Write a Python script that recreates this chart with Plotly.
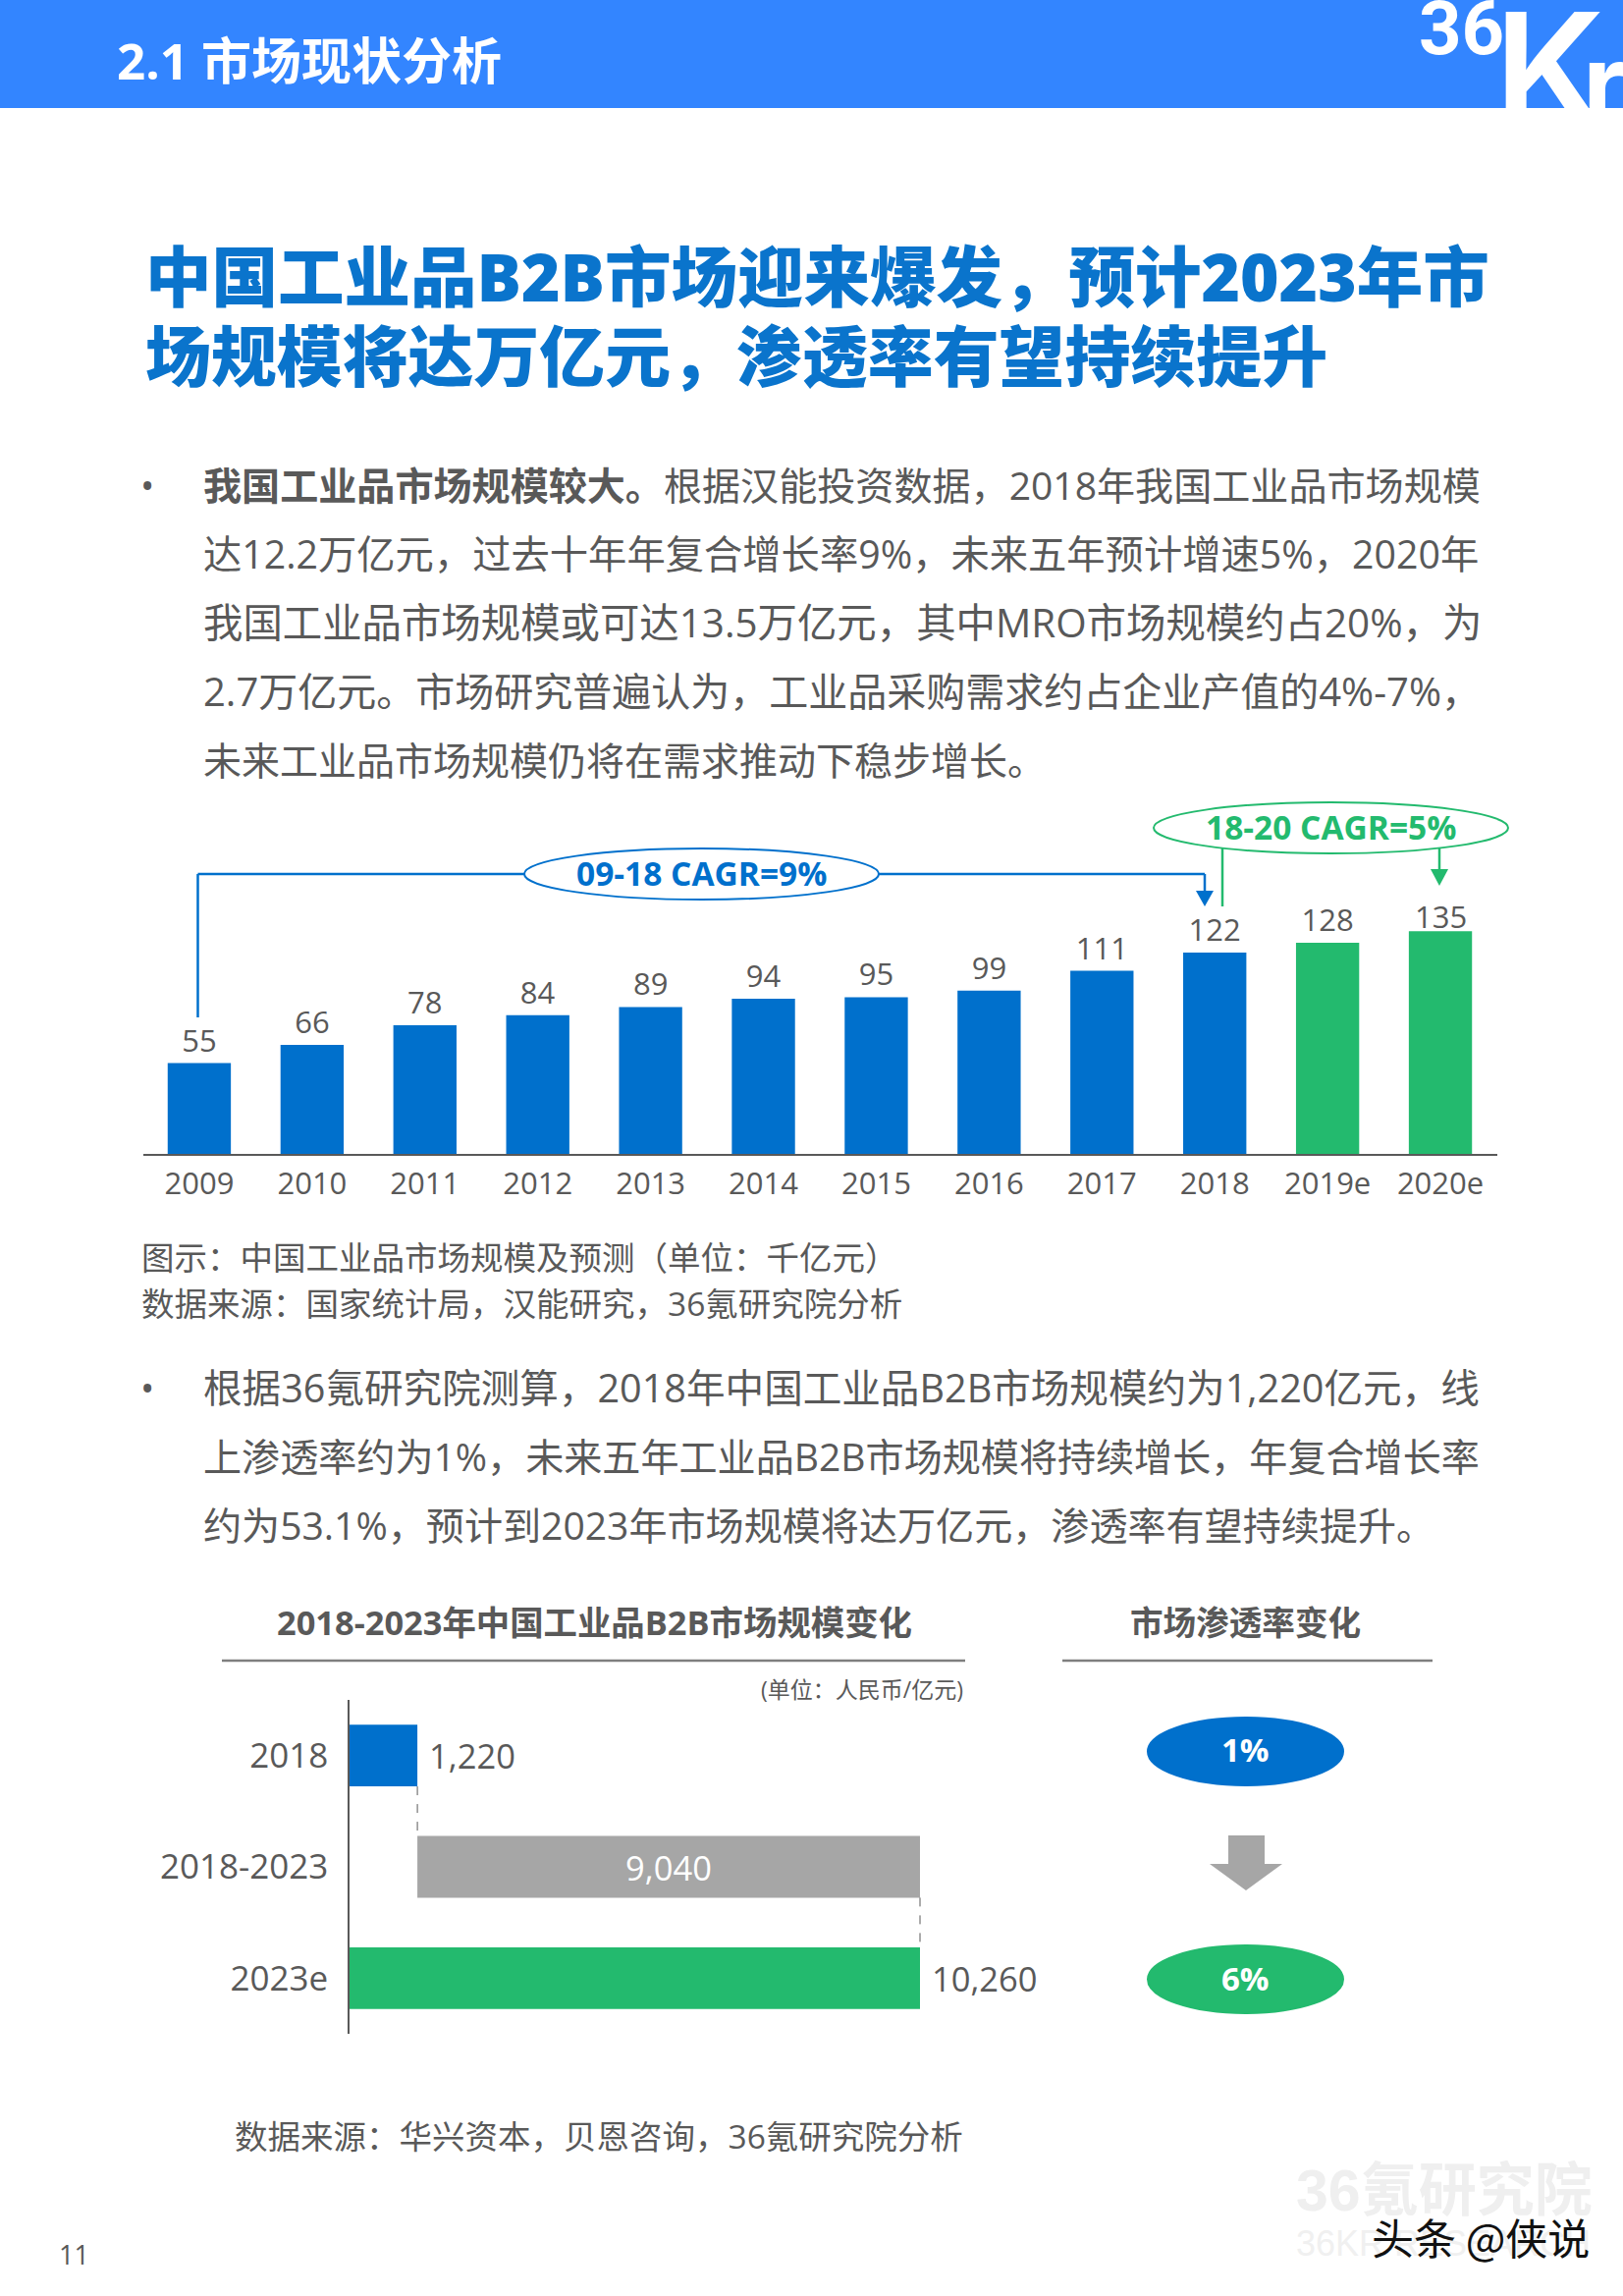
import plotly.graph_objects as go

WIDTH, HEIGHT = 1653, 2338
FONT = "Open Sans, Noto Sans CJK SC, sans-serif"
BLUE = "#0070CC"
GREEN = "#23BA6E"
GRAY = "#A6A6A6"
TEXT = "#595959"

# market size, thousand 100M yuan
years = ["2009", "2010", "2011", "2012", "2013", "2014", "2015", "2016",
         "2017", "2018", "2019e", "2020e"]
market_size = [55, 66, 78, 84, 89, 94, 95, 99, 111, 122, 128, 135]

# B2B waterfall
b2b_labels = ["2018", "2018-2023", "2023e"]
b2b_values = [1220, 9040, 10260]
b2b_bases = [0, 1220, 0]

body_top = [
    "<b>我国工业品市场规模较大。</b>根据汉能投资数据，2018年我国工业品市场规模",
    "达12.2万亿元，过去十年年复合增长率9%，未来五年预计增速5%，2020年",
    "我国工业品市场规模或可达13.5万亿元，其中MRO市场规模约占20%，为",
    "2.7万亿元。市场研究普遍认为，工业品采购需求约占企业产值的4%-7%，",
    "未来工业品市场规模仍将在需求推动下稳步增长。",
]
body_bottom = [
    "根据36氪研究院测算，2018年中国工业品B2B市场规模约为1,220亿元，线",
    "上渗透率约为1%，未来五年工业品B2B市场规模将持续增长，年复合增长率",
    "约为53.1%，预计到2023年市场规模将达万亿元，渗透率有望持续提升。",
]
# the original is justified, so each line gets its own size
sizes_top = [39.1, 39.3, 40.4, 40, 39]
sizes_bottom = [39.6, 39.1, 39.1]


def px(x):
    return x / WIDTH


def py(y):
    return 1 - y / HEIGHT


def label(x, y, text, size=33.5, color=TEXT, anchor="left", family=FONT, weight=None):
    font = dict(size=size, color=color, family=family)
    if weight:
        font["weight"] = weight
    fig.add_annotation(xref="paper", yref="paper", x=px(x), y=py(y), text=text,
                       showarrow=False, xanchor=anchor, yanchor="middle",
                       borderpad=0, borderwidth=0, font=font)


def rect(x0, y0, x1, y1, color):
    fig.add_shape(type="rect", xref="paper", yref="paper", x0=px(x0), x1=px(x1),
                  y0=py(y0), y1=py(y1), fillcolor=color, line_width=0)


def line(x0, y0, x1, y1, color, width=2.5, dash="solid"):
    fig.add_shape(type="line", xref="paper", yref="paper", x0=px(x0), x1=px(x1),
                  y0=py(y0), y1=py(y1), line=dict(color=color, width=width, dash=dash))


def ellipse(x0, y0, x1, y1, fill, border=None):
    fig.add_shape(type="circle", xref="paper", yref="paper", x0=px(x0), x1=px(x1),
                  y0=py(y0), y1=py(y1), fillcolor=fill,
                  line=dict(color=border or fill, width=2))


def polygon(points, color):
    path = "M" + " L".join(f"{px(x):.5f},{py(y):.5f}" for x, y in points) + " Z"
    fig.add_shape(type="path", xref="paper", yref="paper", path=path,
                  fillcolor=color, line_width=0)


fig = go.Figure()

# last label sits closer to its bar in the original, added separately below
fig.add_trace(go.Bar(
    x=years, y=market_size, xaxis="x", yaxis="y", width=0.56,
    marker=dict(color=[BLUE] * 10 + [GREEN] * 2, line_width=0),
    text=market_size[:-1] + [""], textposition="outside", cliponaxis=False,
    textfont=dict(size=31, color=TEXT, family=FONT),
    showlegend=False,
))
fig.add_annotation(xref="x", yref="y", x=years[-1], y=market_size[-1], text=str(market_size[-1]),
                   showarrow=False, yanchor="bottom", yshift=-8,
                   font=dict(size=31, color=TEXT, family=FONT))

fig.add_trace(go.Bar(
    y=b2b_labels, x=b2b_values, base=b2b_bases, orientation="h",
    xaxis="x2", yaxis="y2", width=0.554,
    marker=dict(color=[BLUE, GRAY, GREEN], line_width=0),
    text=[f"\u00a0{b2b_values[0]:,}", f"{b2b_values[1]:,}", f"\u00a0{b2b_values[2]:,}"],
    textposition=["outside", "inside", "outside"],
    insidetextanchor="middle", cliponaxis=False, constraintext="none",
    textfont=dict(size=34.5, color=[TEXT, "#FFFFFF", TEXT], family=FONT),
    showlegend=False,
))

# header band
rect(0, 0, WIDTH, 110, "#3385FF")
label(119, 61, "<b>2.1 市场现状分析</b>", size=51, color="#FFFFFF")
label(1445, 29, "36", size=76, color="#FFFFFF", family="Roboto, sans-serif", weight=700)
label(1522, 70, "K", size=160, color="#FFFFFF", family="Inter, sans-serif", weight=600)
label(1612, 84, "r", size=110, color="#FFFFFF", family="Inter, sans-serif", weight=700)

# headline
label(148, 281, "中国工业品B2B市场迎来爆发，预计2023年市", size=67.5, color="#0A74CC", weight=900)
label(148, 362, "场规模将达万亿元，渗透率有望持续提升", size=66.9, color="#0A74CC", weight=900)

# paragraphs
label(143, 494, "•", size=38)
for i, text in enumerate(body_top):
    label(207, 493.5 + i * 70, text, size=sizes_top[i])
label(143, 1413, "•", size=38)
for i, text in enumerate(body_bottom):
    label(207, 1412.5 + i * 70, text, size=sizes_bottom[i])

# CAGR brackets
line(201.5, 1036, 201.5, 890, BLUE)
line(201.5, 890, 1227, 890, BLUE)
line(1227, 890, 1227, 908, BLUE)
polygon([(1218, 907), (1236, 907), (1227, 923)], BLUE)
ellipse(534, 864, 895, 916, "#FFFFFF", BLUE)
label(714, 889, "<b>09-18 CAGR=9%</b>", size=33.5, color=BLUE, anchor="center")

line(1245, 864, 1245, 923, GREEN)
line(1466, 864, 1466, 886, GREEN)
polygon([(1457, 885), (1475, 885), (1466, 902)], GREEN)
ellipse(1175, 817, 1536, 869, "#FFFFFF", GREEN)
label(1355, 842, "<b>18-20 CAGR=5%</b>", size=33.5, color=GREEN, anchor="center")

label(144, 1280, "图示：中国工业品市场规模及预测（单位：千亿元）")
label(144, 1327, "数据来源：国家统计局，汉能研究，36氪研究院分析")

# lower panel headers
label(605, 1651, "<b>2018-2023年中国工业品B2B市场规模变化</b>", size=34.4, anchor="center")
label(1268, 1652, "<b>市场渗透率变化</b>", size=33.6, anchor="center")
line(226, 1691, 983, 1691, "#7F7F7F")
line(1082, 1691, 1459, 1691, "#7F7F7F")
label(981, 1720, "(单位：人民币/亿元)", size=23, anchor="right")

# dashed links between the waterfall bars
for value, row in [(b2b_values[0], 0), (b2b_values[2], 1)]:
    fig.add_shape(type="line", xref="x2", yref="y2", x0=value, x1=value,
                  y0=row + 0.277, y1=row + 0.723,
                  line=dict(color=TEXT, width=1, dash="dash"))

# penetration rate
ellipse(1169, 1749, 1368, 1818, BLUE)
label(1268.5, 1782, "<b>1%</b>", size=33, color="#FFFFFF", anchor="center")
polygon([(1251, 1869), (1288, 1869), (1288, 1898), (1306, 1898), (1269, 1925),
         (1232, 1898), (1251, 1898)], GRAY)
ellipse(1169, 1981, 1368, 2050, GREEN)
label(1268.5, 2014, "<b>6%</b>", size=33, color="#FFFFFF", anchor="center")

label(239, 2175, "数据来源：华兴资本，贝恩咨询，36氪研究院分析")

# footer and watermark
label(60, 2295, "11", size=27)
label(1320, 2231, "<b>36氪研究院</b>", size=59, color="#EFEFEF", family="Liberation Sans, Noto Sans CJK SC")
label(1320, 2284, "36KR RESEARCH", size=36, color="#F0F0F0", family="Liberation Sans")
label(1397, 2277, "头条 @侠说", size=43, color="#111111", family="Noto Sans CJK SC")

fig.update_layout(
    width=WIDTH, height=HEIGHT, margin=dict(l=0, r=0, t=0, b=0, pad=0),
    paper_bgcolor="#FFFFFF", plot_bgcolor="rgba(0,0,0,0)",
    font=dict(family=FONT, color=TEXT),
    xaxis=dict(domain=[px(145.5), px(1524.5)], type="category", range=[-0.5, 11.5],
               showgrid=False, showline=True, linecolor=TEXT, linewidth=2,
               ticks="", ticklabelstandoff=2, tickfont=dict(size=31, color=TEXT),
               anchor="y", zeroline=False),
    yaxis=dict(domain=[py(1175), py(800)], range=[0, 223.2], visible=False,
               anchor="x"),
    xaxis2=dict(domain=[px(356), px(1101)], range=[0, 13156], visible=False,
                anchor="y2"),
    yaxis2=dict(domain=[py(2071), py(1731)], type="category", range=[2.5, -0.5],
                showgrid=False, showline=True, linecolor=TEXT, linewidth=1.5,
                ticks="", ticklabelstandoff=13, tickfont=dict(size=35, color=TEXT),
                anchor="x2", zeroline=False),
)

fig.write_html("out.html", config={"displayModeBar": False},
               post_script="document.body.style.margin = 0;")
